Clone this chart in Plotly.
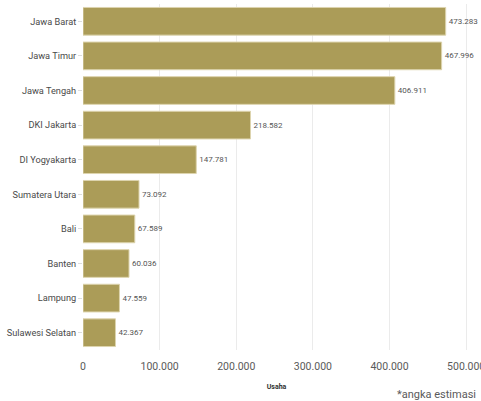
import plotly.graph_objects as go

provinces = ["Jawa Barat", "Jawa Timur", "Jawa Tengah", "DKI Jakarta", "DI Yogyakarta",
             "Sumatera Utara", "Bali", "Banten", "Lampung", "Sulawesi Selatan"]
values = [473283, 467996, 406911, 218582, 147781, 73092, 67589, 60036, 47559, 42367]
x_ticks = [0, 100000, 200000, 300000, 400000, 500000]

fig = go.Figure(go.Bar(
    x=values, y=provinces, orientation="h",
    marker=dict(color="#ab9c58", line=dict(color="#ddd4ae", width=1)),
    text=values, texttemplate="%{x:,}", textposition="outside",
    textfont=dict(size=8, color="#555555", family="Roboto"),
    cliponaxis=False,
))

fig.update_layout(
    width=481, height=401,
    margin=dict(l=83, r=11, t=4, b=51, autoexpand=False),
    paper_bgcolor="white", plot_bgcolor="white",
    separators=",.",
    bargap=0.2,
    showlegend=False,
    font=dict(family="Roboto", color="#444444"),
    xaxis=dict(range=[0, 505000], tickvals=x_ticks, tickformat=",",
               automargin=False,
               showgrid=True, gridcolor="#ebebeb", gridwidth=1,
               zeroline=False, showline=False,
               ticks="outside", ticklen=6, tickcolor="rgba(0,0,0,0)",
               ticklabeloverflow="allow",
               tickfont=dict(size=10.5, color="#5a5a5a"),
               title=dict(text="<b>Usaha</b>", font=dict(size=7, color="#333333"), standoff=12)),
    yaxis=dict(autorange="reversed", showgrid=False, zeroline=False,
               automargin=False,
               ticks="outside", ticklen=4, tickcolor="#dddddd",
               tickfont=dict(size=9.2, color="#4a4a4a")),
    annotations=[dict(text="*angka estimasi", xref="paper", yref="paper",
                      x=1.02, y=-0.128, xanchor="right", yanchor="middle",
                      showarrow=False, font=dict(size=11, color="#5a5a5a"))],
)

fig.write_html("out.html")
